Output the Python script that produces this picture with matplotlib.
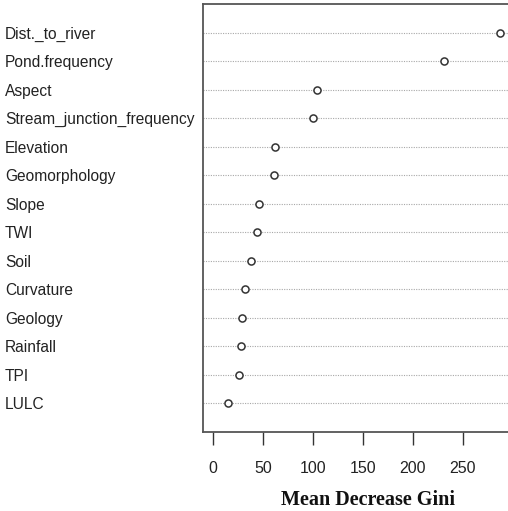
import matplotlib
matplotlib.use('Agg')
import matplotlib.pyplot as plt
import numpy as np

# variable importance (random forest), top to bottom as in the plot
variables = ['Dist._to_river', 'Pond.frequency', 'Aspect', 'Stream_junction_frequency',
             'Elevation', 'Geomorphology', 'Slope', 'TWI', 'Soil', 'Curvature',
             'Geology', 'Rainfall', 'TPI', 'LULC']
gini = [287, 231, 104, 100, 62, 61, 46, 44, 38, 32, 29, 28, 26, 15]
xticks = [0, 50, 100, 150, 200, 250]

W, H = 508, 511
fig = plt.figure(figsize=(W / 100, H / 100), dpi=100)
ax = fig.add_axes([203 / W, (H - 432) / H, (520 - 203) / W, (432 - 4) / H])

n = len(variables)
rows = np.arange(n, 0, -1)

for r in rows:
    ax.axhline(r, color='#a8a8a8', linestyle=(0, (1, 1.2)), linewidth=0.8, zorder=1)
ax.scatter(gini, rows, s=26, facecolors='white', edgecolors='#333333',
           linewidths=1.1, zorder=3)

ax.set_xlim(-10, 307)
ax.set_ylim(0, n + 1)
ax.set_xticks(xticks)
ax.set_xticklabels([str(t) for t in xticks], fontsize=11.5, family='Liberation Sans',
                   color='#222222')
ax.tick_params(axis='x', length=9, width=1, color='#333333', pad=12)

ax.set_yticks(rows)
ax.set_yticklabels(variables, fontsize=11.2, family='Liberation Sans', color='#222222')
ax.tick_params(axis='y', length=0, pad=198 * 0.72)
for lab in ax.get_yticklabels():
    lab.set_horizontalalignment('left')

for sp in ax.spines.values():
    sp.set_color('#555555')
    sp.set_linewidth(1.3)

ax.set_xlabel('Mean Decrease Gini', fontsize=14.5, family='Liberation Serif',
              fontweight='bold', labelpad=8, color='#111111')
ax.xaxis.set_label_coords((368 - 203) / (520 - 203), -0.135)

fig.savefig('out.png', dpi=100)
